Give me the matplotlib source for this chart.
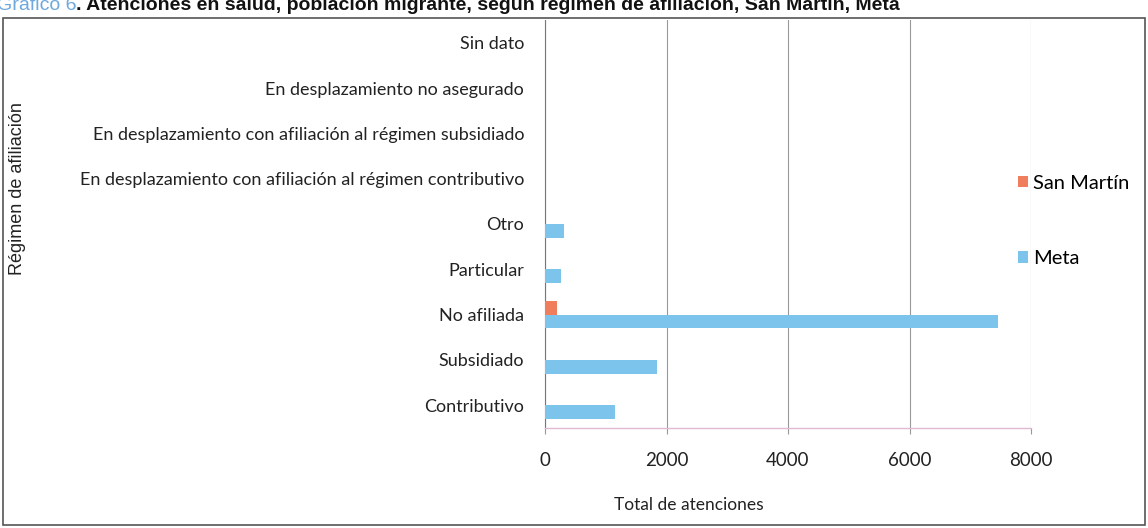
import matplotlib.pyplot as plt
import numpy as np
from matplotlib.patches import Rectangle

# Regímenes de afiliación (de abajo hacia arriba)
regimenes = [
    "Contributivo",
    "Subsidiado",
    "No afiliada",
    "Particular",
    "Otro",
    "En desplazamiento con afiliación al régimen contributivo",
    "En desplazamiento con afiliación al régimen subsidiado",
    "En desplazamiento no asegurado",
    "Sin dato",
]
meta = [1160, 1840, 7450, 265, 305, 0, 0, 0, 0]
san_martin = [0, 0, 200, 0, 0, 0, 0, 0, 0]

color_meta = "#7cc4ec"
color_sm = "#f07e5c"

plt.rcParams['font.family'] = ['Lato', 'DejaVu Sans']

fig = plt.figure(figsize=(11.48, 5.28), dpi=100)
ax = fig.add_axes([545 / 1148, 1 - 428 / 528, 486 / 1148, 408 / 528])

y = np.arange(len(regimenes))
h = 0.3
ax.barh(y - h / 2, meta, height=h, color=color_meta, label="Meta", zorder=3)
ax.barh(y + h / 2, san_martin, height=h, color=color_sm, label="San Martín", zorder=3)

ax.set_xlim(0, 8000)
ax.set_ylim(-0.5, len(regimenes) - 0.5)
ax.set_xticks([0, 2000, 4000, 6000, 8000])
ax.set_yticks(y)
ax.set_yticklabels(regimenes, fontsize=13, color="#222222")
ax.tick_params(axis='y', length=0, pad=15)
ax.tick_params(axis='x', length=4, color="#999999", labelsize=13.5, pad=13, labelcolor="#222222")
ax.xaxis.grid(True, color="#999999", linewidth=0.8, zorder=0)

for s in ["top", "right"]:
    ax.spines[s].set_visible(False)
ax.spines["left"].set_color("#777777")
ax.spines["bottom"].set_color("#e0b8d0")
ax.spines["bottom"].set_linewidth(1.0)

ax.set_xlabel("Total de atenciones", fontsize=12.5, color="#222222")
ax.xaxis.set_label_coords(0.296, -0.17)
ax.set_ylabel("Régimen de afiliación", fontsize=13, color="#222222",
              family="Liberation Sans")
ax.yaxis.set_label_coords(-1.068, 0.588)

handles, labels = ax.get_legend_handles_labels()
ax.legend(handles[::-1], labels[::-1], loc="center left", bbox_to_anchor=(0.974, 0.508),
          frameon=False, fontsize=14.5, handlelength=0.5, handleheight=0.5,
          handletextpad=0.25, labelspacing=2.9, borderaxespad=0, borderpad=0)

# marco del gráfico
fig.patches.append(Rectangle((3 / 1148, 3 / 528), 1142 / 1148, 507 / 528,
                             transform=fig.transFigure, fill=False,
                             edgecolor="#555555", linewidth=1.2))

# título (parcialmente recortado en el borde superior)
t = fig.text(-0.003, 1 - 10 / 528, "Gráfico 6", fontsize=14, color="#6fa8dc",
             family="Liberation Sans", va="baseline", ha="left")
fig.canvas.draw()
bb = t.get_window_extent()
fig.text(bb.x1 / 1148, 1 - 10 / 528,
         ". Atenciones en salud, población migrante, según régimen de afiliación, San Martín, Meta",
         fontsize=14, color="#111111", family="Liberation Sans", weight="bold",
         va="baseline", ha="left")

fig.savefig("out.png", dpi=100)
